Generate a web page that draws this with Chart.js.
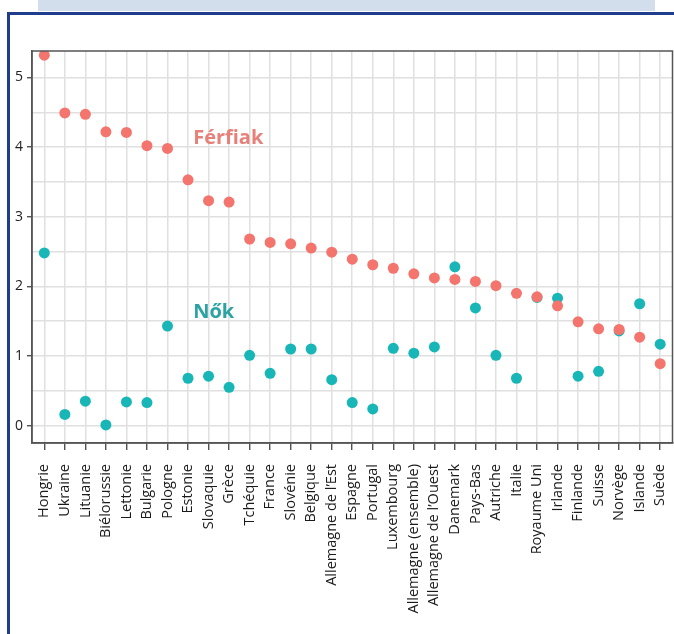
<!DOCTYPE html>
<html>
<head>
<meta charset="utf-8">
<script src="https://cdn.jsdelivr.net/npm/chart.js@4.4.1/dist/chart.umd.min.js"></script>
<style>
  html, body { margin: 0; padding: 0; background: #fff; overflow: hidden; }
  #wrap { position: relative; width: 674px; height: 634px; overflow: hidden; }
  .band { position: absolute; left: 38px; top: 0; width: 617px; height: 11px; background: #d3deec; }
  .frame { position: absolute; left: 7px; top: 12px; width: 700px; height: 700px;
           border-left: 3px solid #1f3d8c; border-top: 3px solid #1f3d8c; }
  canvas { position: absolute; left: 0; top: 0; }
</style>
</head>
<body>
<div id="wrap">
  <div class="band"></div>
  <div class="frame"></div>
  <canvas id="chart" width="678" height="634"></canvas>
</div>
<script>
const countries = ['Hongrie', 'Ukraine', 'Lituanie', 'Biélorussie', 'Lettonie', 'Bulgarie', 'Pologne',
  'Estonie', 'Slovaquie', 'Grèce', 'Tchéquie', 'France', 'Slovénie', 'Belgique', 'Allemagne de l’Est',
  'Espagne', 'Portugal', 'Luxembourg', 'Allemagne (ensemble)', 'Allemagne de l’Ouest', 'Danemark',
  'Pays-Bas', 'Autriche', 'Italie', 'Royaume Uni', 'Irlande', 'Finlande', 'Suisse', 'Norvège',
  'Islande', 'Suède'];

const men   = [5.32, 4.49, 4.47, 4.22, 4.21, 4.02, 3.98, 3.53, 3.23, 3.21, 2.68, 2.63, 2.61, 2.55, 2.49,
               2.39, 2.31, 2.26, 2.18, 2.12, 2.10, 2.07, 2.01, 1.90, 1.85, 1.72, 1.49, 1.39, 1.38, 1.27, 0.89];
const women = [2.48, 0.16, 0.35, 0.01, 0.34, 0.33, 1.43, 0.68, 0.71, 0.55, 1.01, 0.75, 1.10, 1.10, 0.66,
               0.33, 0.24, 1.11, 1.04, 1.13, 2.28, 1.69, 1.01, 0.68, 1.84, 1.83, 0.71, 0.78, 1.36, 1.75, 1.17];

const yTicks = [0, 1, 2, 3, 4, 5];

// series labels placed inside the plot (data coordinates)
const seriesLabels = [
  { text: 'Férfiak', x: 7.25, y: 4.13, color: '#e8807a' },
  { text: 'Nők',     x: 7.25, y: 1.63, color: '#2ba3a3' },
];

const toPoints = vals => vals.map((v, i) => ({ x: i, y: v }));

// ── frame + inline series labels ─────────────────
const extras = {
  id: 'extras',
  afterDatasetsDraw(chart) {
    const { ctx, chartArea: a, scales } = chart;
    ctx.save();
    ctx.strokeStyle = '#555';
    ctx.lineWidth = 1.5;
    ctx.strokeRect(a.left, a.top, a.right - a.left, a.bottom - a.top);
    ctx.font = 'bold 20px "Open Sans"';
    ctx.textAlign = 'left';
    ctx.textBaseline = 'middle';
    seriesLabels.forEach(l => {
      ctx.fillStyle = l.color;
      ctx.fillText(l.text, scales.x.getPixelForValue(l.x), scales.y.getPixelForValue(l.y));
    });
    ctx.restore();
  },
};

new Chart(document.getElementById('chart').getContext('2d'), {
  type: 'scatter',
  data: {
    datasets: [
      { label: 'Férfiak', data: toPoints(men),   backgroundColor: '#f3756d', pointRadius: 5.5, pointBorderWidth: 0 },
      { label: 'Nők',     data: toPoints(women), backgroundColor: '#19b6b8', pointRadius: 5.5, pointBorderWidth: 0 },
    ],
  },
  options: {
    responsive: false,
    animation: false,
    layout: { padding: { left: 7, top: 51, right: 2, bottom: 0 } },
    plugins: { legend: { display: false }, tooltip: { enabled: false } },
    scales: {
      x: {
        type: 'linear',
        min: -0.6, max: 30.6,
        afterFit: s => { s.height = 191; s.paddingLeft = 0; s.paddingRight = 0; },
        grid: { color: '#e0e0e0', lineWidth: 1.5, tickLength: 7, tickColor: '#333', tickWidth: 1.2 },
        border: { color: '#555', width: 1.5 },
        ticks: {
          stepSize: 1, includeBounds: false, autoSkip: false,
          minRotation: 90, maxRotation: 90, padding: 14,
          color: '#1a1a1a', font: { family: '"Open Sans"', size: 14.5 },
          callback: v => countries[v] ?? '',
        },
      },
      y: {
        min: -0.25, max: 5.38,
        afterFit: s => { s.width = 25; s.paddingTop = 0; s.paddingBottom = 0; },
        grid: {
          color: '#e0e0e0', lineWidth: 1.5, tickLength: 5, tickWidth: 1.2,
          tickColor: c => yTicks.includes(c.tick.value) ? '#333' : 'transparent',
        },
        border: { color: '#555', width: 1.5 },
        ticks: {
          stepSize: 0.5, includeBounds: false, padding: 4,
          color: '#222', font: { family: '"Open Sans"', size: 14 },
          callback: v => yTicks.includes(v) ? v : '',
        },
      },
    },
  },
  plugins: [extras],
});
</script>
</body>
</html>
